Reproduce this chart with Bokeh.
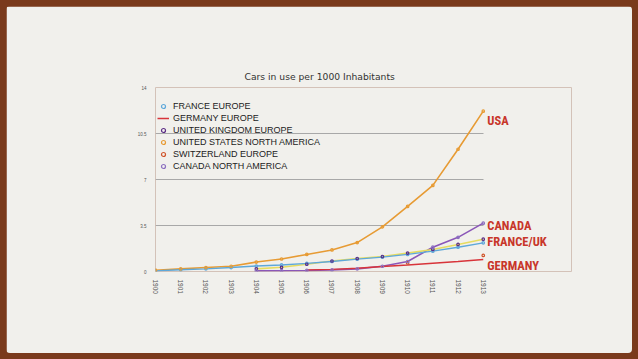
import math
from bokeh.plotting import figure
from bokeh.layouts import column
from bokeh.models import (FixedTicker, Legend, LegendItem, Label, Title)
from bokeh.embed import file_html
from bokeh.resources import INLINE

# ---- data (cars in use per 1000 inhabitants) ----
years = [1900, 1901, 1902, 1903, 1904, 1905, 1906, 1907, 1908, 1909, 1910, 1911, 1912, 1913]
usa = [0.1, 0.2, 0.3, 0.4, 0.72, 0.95, 1.3, 1.64, 2.2, 3.4, 4.95, 6.55, 9.3, 12.2]
france = [0.05, 0.13, 0.2, 0.3, 0.42, 0.5, 0.62, 0.76, 0.94, 1.09, 1.3, 1.55, 1.85, 2.18]
uk_years = [1904, 1905, 1906, 1907, 1908, 1909, 1910, 1911, 1912, 1913]
uk = [0.2, 0.32, 0.55, 0.8, 0.99, 1.14, 1.4, 1.68, 2.06, 2.46]
canada_years = [1904, 1905, 1906, 1907, 1908, 1909, 1910, 1911, 1912, 1913]
canada = [0.05, 0.06, 0.08, 0.12, 0.2, 0.4, 0.76, 1.85, 2.6, 3.68]
germany_years = [1906, 1907, 1908, 1909, 1910, 1911, 1912, 1913]
germany = [0.12, 0.16, 0.25, 0.38, 0.5, 0.63, 0.76, 0.91]
swiss_years = [1910, 1913]
swiss = [0.65, 1.22]
y_ticks = [0, 3.5, 7, 10.5, 14]
y_tick_labels = {0: "0", 3.5: "3.5", 7: "7", 10.5: "10.5", 14: "14"}

title_text = "Cars in use per 1000 Inhabitants"
series_names = ["FRANCE EUROPE", "GERMANY EUROPE", "UNITED KINGDOM EUROPE",
                "UNITED STATES NORTH AMERICA", "SWITZERLAND EUROPE", "CANADA NORTH AMERICA"]
end_labels = ["USA", "CANADA", "FRANCE/UK", "GERMANY"]

# ---- styles ----
BG = "#f1f0ec"
BROWN = "#7a3a1c"
C_USA = "#e79b34"
C_CAN_LINE = "#8b57b8"
C_UK_LINE = "#e6dc60"
C_FR = "#5ea8da"
C_DE = "#d8343a"
C_UK_MK = "#5b2d86"
C_CH = "#d0552b"
C_CAN_MK = "#8c70c0"
LABEL_RED = "#c8362a"
LABEL_FONT = "Roboto Condensed, DejaVu Sans Condensed, Roboto, sans-serif"

# frame extends to the right of 1913 so the end labels sit inside it
fig = figure(width=626, height=347, output_backend="svg", toolbar_location=None,
             x_range=(1900, 1916.5), y_range=(0, 14),
             min_border_left=149, min_border_right=61, min_border_top=81, min_border_bottom=82,
             background_fill_color=BG, border_fill_color=BG)
fig.outline_line_color = None
fig.outline_line_alpha = 0
fig.styles = {"border-radius": "4px", "overflow": "hidden"}

fig.title = Title(text=title_text, align="left", offset=89, text_font="DejaVu Sans",
                  text_font_size="9.2px", text_font_style="normal", text_color="#333333",
                  standoff=12)

# axes
fig.xaxis.ticker = FixedTicker(ticks=years)
fig.xaxis.bounds = (years[0], years[-1])
fig.xaxis.major_label_orientation = -math.pi / 2
fig.xaxis.major_label_text_font_size = "6.5px"
fig.xaxis.major_label_text_color = "#555555"
fig.xaxis.axis_line_color = None
fig.xaxis.major_tick_line_color = None
fig.xaxis.minor_tick_line_color = None
fig.xaxis.major_label_standoff = 2

fig.yaxis.ticker = FixedTicker(ticks=y_ticks)
fig.yaxis.major_label_overrides = y_tick_labels
fig.yaxis.major_label_text_font_size = "4.5px"
fig.yaxis.major_label_text_color = "#555555"
fig.yaxis.axis_line_color = None
fig.yaxis.major_tick_line_color = None
fig.yaxis.minor_tick_line_color = None
fig.yaxis.major_label_standoff = 3

fig.xgrid.grid_line_color = None
fig.ygrid.grid_line_color = "#a8a8a8"
fig.ygrid.grid_line_width = 1
try:
    fig.ygrid.cross_bounds = (years[0], years[-1])
except Exception:
    pass

# lines
fig.line(years, usa, line_color=C_USA, line_width=1.6)
fig.line(canada_years, canada, line_color=C_CAN_LINE, line_width=1.6)
fig.line(uk_years, uk, line_color=C_UK_LINE, line_width=1.6)
fig.line(years, france, line_color=C_FR, line_width=1.4)
r_de = fig.line(germany_years, germany, line_color=C_DE, line_width=1.4)

# markers
mk = dict(size=2.5, fill_color=None, line_width=1.2)
r_fr = fig.scatter(years, france, line_color=C_FR, **mk)
r_uk = fig.scatter(uk_years, uk, line_color=C_UK_MK, **mk)
r_us = fig.scatter(years, usa, line_color=C_USA, **mk)
r_ch = fig.scatter(swiss_years, swiss, line_color=C_CH, **mk)
r_ca = fig.scatter(canada_years, canada, line_color=C_CAN_MK, **mk)

legend = Legend(items=[
    LegendItem(label=series_names[0], renderers=[r_fr]),
    LegendItem(label=series_names[1], renderers=[r_de]),
    LegendItem(label=series_names[2], renderers=[r_uk]),
    LegendItem(label=series_names[3], renderers=[r_us]),
    LegendItem(label=series_names[4], renderers=[r_ch]),
    LegendItem(label=series_names[5], renderers=[r_ca]),
], location=(2, 100), background_fill_alpha=0, border_line_color=None,
    label_text_font="Liberation Sans", label_text_font_size="9px",
    label_text_color="#222222", glyph_width=12, glyph_height=10, label_height=10,
    spacing=2, label_standoff=4, padding=2, margin=0, item_background_fill_alpha=0)
fig.add_layout(legend)

# end labels, anchored on last values
ends = [
    (end_labels[0], usa[-1], -9),
    (end_labels[1], canada[-1], -2),
    (end_labels[2], (france[-1] + uk[-1]) / 2, 0),
    (end_labels[3], germany[-1], -6),
]
for txt, yv, yoff in ends:
    fig.add_layout(Label(x=years[-1], y=yv, text=txt, x_offset=4, y_offset=yoff,
                         text_font=LABEL_FONT, text_font_style="bold",
                         text_font_size="12.5px", text_color=LABEL_RED, text_baseline="middle"))

p = column(fig, styles={"background-color": BROWN, "padding": "6px"})

open("out.html", "w").write(file_html(p, INLINE))
